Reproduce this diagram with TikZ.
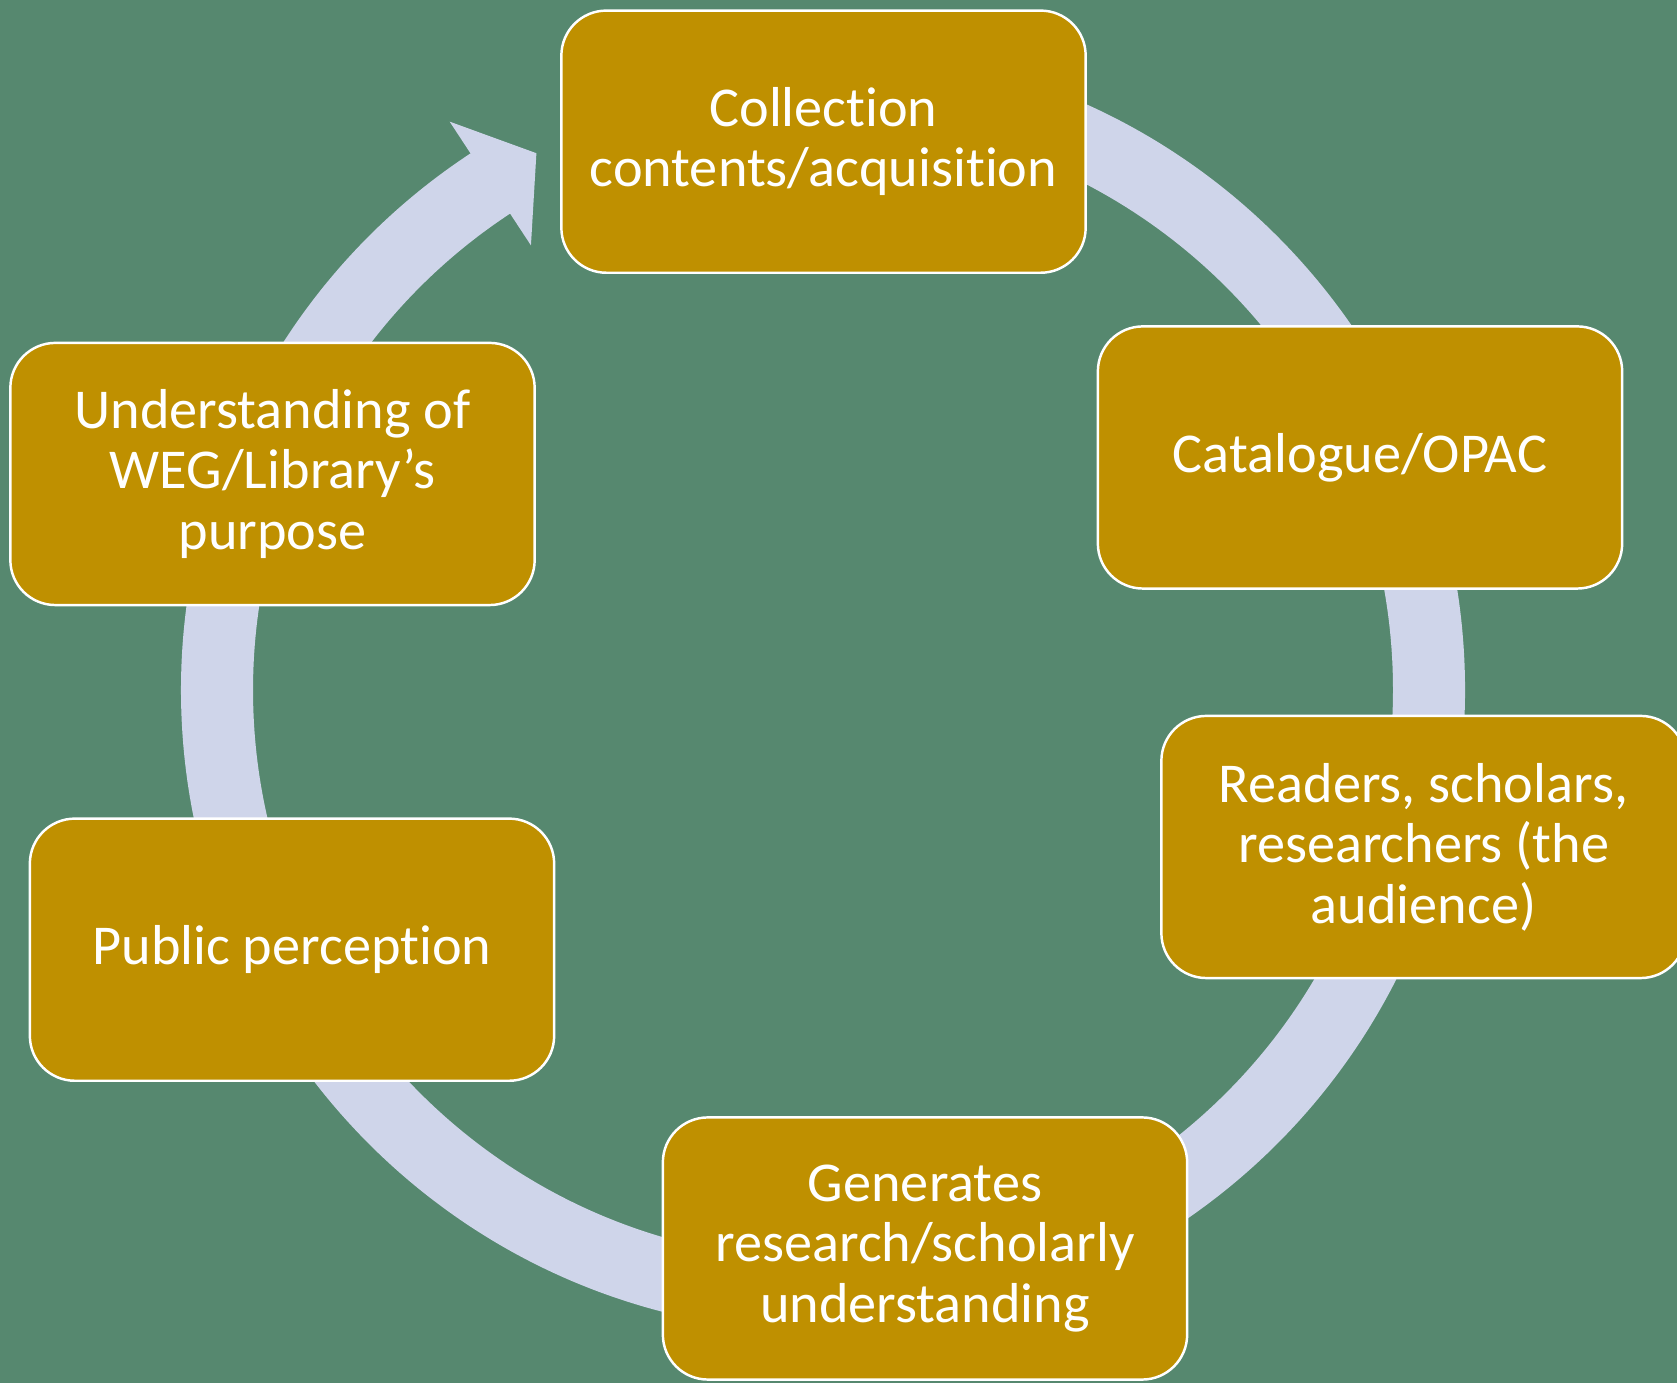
\documentclass[tikz,border=0pt]{standalone}
\usepackage{fontspec}
\setmainfont[Ligatures=NoCommon]{Carlito}
\usetikzlibrary{calc}

\definecolor{slidegreen}{RGB}{86,136,111}
\definecolor{boxgold}{RGB}{191,144,0}
\definecolor{ringblue}{RGB}{207,213,234}

\begin{document}
\begin{tikzpicture}[x=0.01cm, y=0.01cm,
  stage/.style={draw=white, line width=0.7pt, fill=boxgold, rounded corners=0.45cm,
    minimum width=5.24cm, minimum height=2.62cm, align=center, text=white,
    font=\fontsize{16}{17.2}\selectfont},
  ring/.style={draw=ringblue, line width=0.72cm}]
  % Slide background, fixes the page size
  \fill[slidegreen] (0,0) rectangle (1677,1383);
  \useasboundingbox (0,0) rectangle (1677,1383);
  \clip (0,0) rectangle (1677,1383);

  % Continuous ring behind the boxes, one arrow head near the top box
  \coordinate (ctr) at (823,693);
  \draw[ring] ($(ctr)+(90:606)$) arc[start angle=90, end angle=-237.5, radius=606];
  \fill[ringblue] ($(ctr)+(123.3:680)$) -- ($(ctr)+(118.1:608.5)$)
    -- ($(ctr)+(123.3:532)$) -- cycle;

  % Stages of the cycle
  \node[stage] (coll) at (823.5,1241.3) {Collection\\contents/acquisition};
  \node[stage] (cat) at (1360,925.5) {Catalogue/OPAC};
  \node[stage] (read) at (1423.5,536) {Readers, scholars,\\researchers (the\\audience)};
  \node[stage] (gen) at (925,134.5) {Generates\\research/scholarly\\understanding};
  \node[stage] (pub) at (292,433.3) {Public perception};
  \node[stage] (und) at (272.5,909) {Understanding of\\WEG/Library’s\\purpose};
\end{tikzpicture}
\end{document}
